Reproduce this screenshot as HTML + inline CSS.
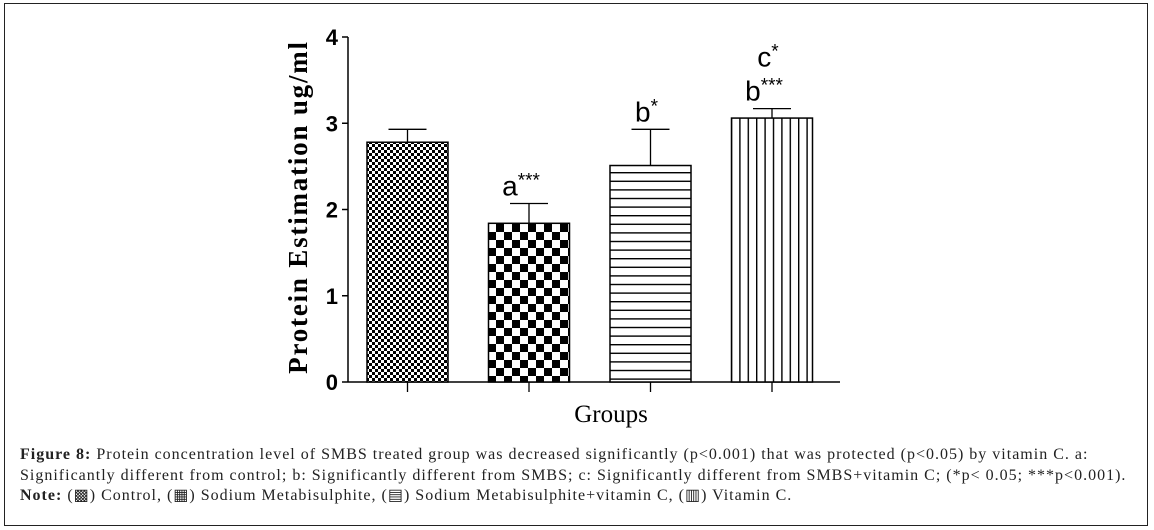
<!DOCTYPE html>
<html><head><meta charset="utf-8"><style>
body{margin:0;background:#fff;width:1154px;height:530px;overflow:hidden;position:relative;font-family:"Liberation Serif",serif}
#frame{position:absolute;left:4px;top:3px;width:1144px;height:523px;border:1.5px solid #222;box-sizing:border-box}
#cap{position:absolute;left:20px;top:445px;width:1125px;font-size:16px;line-height:20.5px;color:#222;letter-spacing:1.0px;white-space:nowrap}
</style></head><body>
<div id="frame"></div>
<svg id="chart" width="1154" height="440" style="position:absolute;left:0;top:0">
<defs>
<pattern id="p1" width="6" height="6" patternUnits="userSpaceOnUse"><rect width="6" height="6" fill="#fff"/><rect width="3" height="3" fill="#000"/><rect x="3" y="3" width="3" height="3" fill="#000"/></pattern>
<pattern id="p2" width="16" height="16" patternUnits="userSpaceOnUse"><rect width="16" height="16" fill="#fff"/><rect width="8" height="8" fill="#000"/><rect x="8" y="8" width="8" height="8" fill="#000"/></pattern>
<pattern id="p3" width="10" height="8.6" patternUnits="userSpaceOnUse"><rect width="10" height="8.6" fill="#fff"/><rect y="0" width="10" height="1.4" fill="#000"/></pattern>
<pattern id="p4" width="8.4" height="10" patternUnits="userSpaceOnUse"><rect width="8.4" height="10" fill="#fff"/><rect x="0" width="1.4" height="10" fill="#000"/></pattern>
</defs>
<g id="g"></g>
</svg>
<div id="cap"><b>Figure 8:</b> Protein concentration level of SMBS treated group was decreased significantly (p&lt;0.001) that was protected (p&lt;0.05) by vitamin C. a:<br>Significantly different from control; b: Significantly different from SMBS; c: Significantly different from SMBS+vitamin C; (*p&lt; 0.05; ***p&lt;0.001).<br><b>Note:</b> (▩) Control, (▦) Sodium Metabisulphite, (▤) Sodium Metabisulphite+vitamin C, (▥) Vitamin C.</div>
<script>
const categories=["Control","Sodium Metabisulphite","Sodium Metabisulphite+vitamin C","Vitamin C"];
const values=[2.78,1.84,2.51,3.06];
const errors=[0.15,0.23,0.42,0.11];
const annotations=[[],["a***"],["b*"],["b***","c*"]];
const yTicks=[0,1,2,3,4];
const patterns=["p1","p2","p3","p4"];
const NS="http://www.w3.org/2000/svg";
const g=document.getElementById('g');
const y0=382,yTop=37,yMax=4,axX=348;
const y=v=>y0-(v/yMax)*(y0-yTop);
const barW=81,band=121.5,firstX=367;
const xb=i=>firstX+i*band;
function el(t,a,txt){const e=document.createElementNS(NS,t);for(const k in a)e.setAttribute(k,a[k]);if(txt!==undefined)e.textContent=txt;g.appendChild(e);return e;}
let e;
e=el('line',{x1:axX,y1:yTop,x2:axX,y2:y0,stroke:'#000','stroke-width':1.5});


e=el('line',{x1:axX,y1:y0,x2:840,y2:y0,stroke:'#000','stroke-width':1.5});


yTicks.forEach(t=>{
 e=el('line',{x1:axX-6,y1:y(t),x2:axX,y2:y(t),stroke:'#000','stroke-width':1.5});
 
 
 e=el('text',{x:axX-10,y:y(t)+8,'text-anchor':'end','font-family':'Liberation Sans, sans-serif','font-weight':'bold','font-size':22},t);
 
 
});
values.forEach((v,i)=>{
 const x=xb(i),cx=x+barW/2,top=y(v),et=y(v+errors[i]);
 e=el('line',{x1:cx,y1:top,x2:cx,y2:et,stroke:'#000','stroke-width':1.3});
 
 
 e=el('line',{x1:cx-19,y1:et,x2:cx+19,y2:et,stroke:'#000','stroke-width':1.3});
 
 
 e=el('rect',{x:x,y:top,width:barW,height:y0-top,fill:'url(#'+patterns[i]+')',stroke:'#000','stroke-width':1.5});
 
 
 e=el('line',{x1:cx,y1:y0,x2:cx,y2:y0+10,stroke:'#000','stroke-width':1.3});
 
 
 annotations[i].forEach((a,j)=>{
  const m=a.match(/^([a-z])(\*+)$/);
  e=el('text',{x:cx-(m[2].length>1?8:4),y:et-8-j*34,'text-anchor':'middle','font-family':'Liberation Sans, sans-serif','font-size':28});
  
  
  e.textContent=m[1];
  const s=document.createElementNS(NS,'tspan');s.setAttribute('dy','-9');s.setAttribute('font-size','19');s.textContent=m[2];e.appendChild(s);
 });
});
e=el('text',{x:611,y:422,'text-anchor':'middle','font-size':25},'Groups');


e=el('text',{x:0,y:0,'text-anchor':'middle','font-size':27,'font-weight':'bold','letter-spacing':'1.8',transform:'translate(307,207) rotate(-90)'},'Protein Estimation ug/ml');


</script>
</body></html>
